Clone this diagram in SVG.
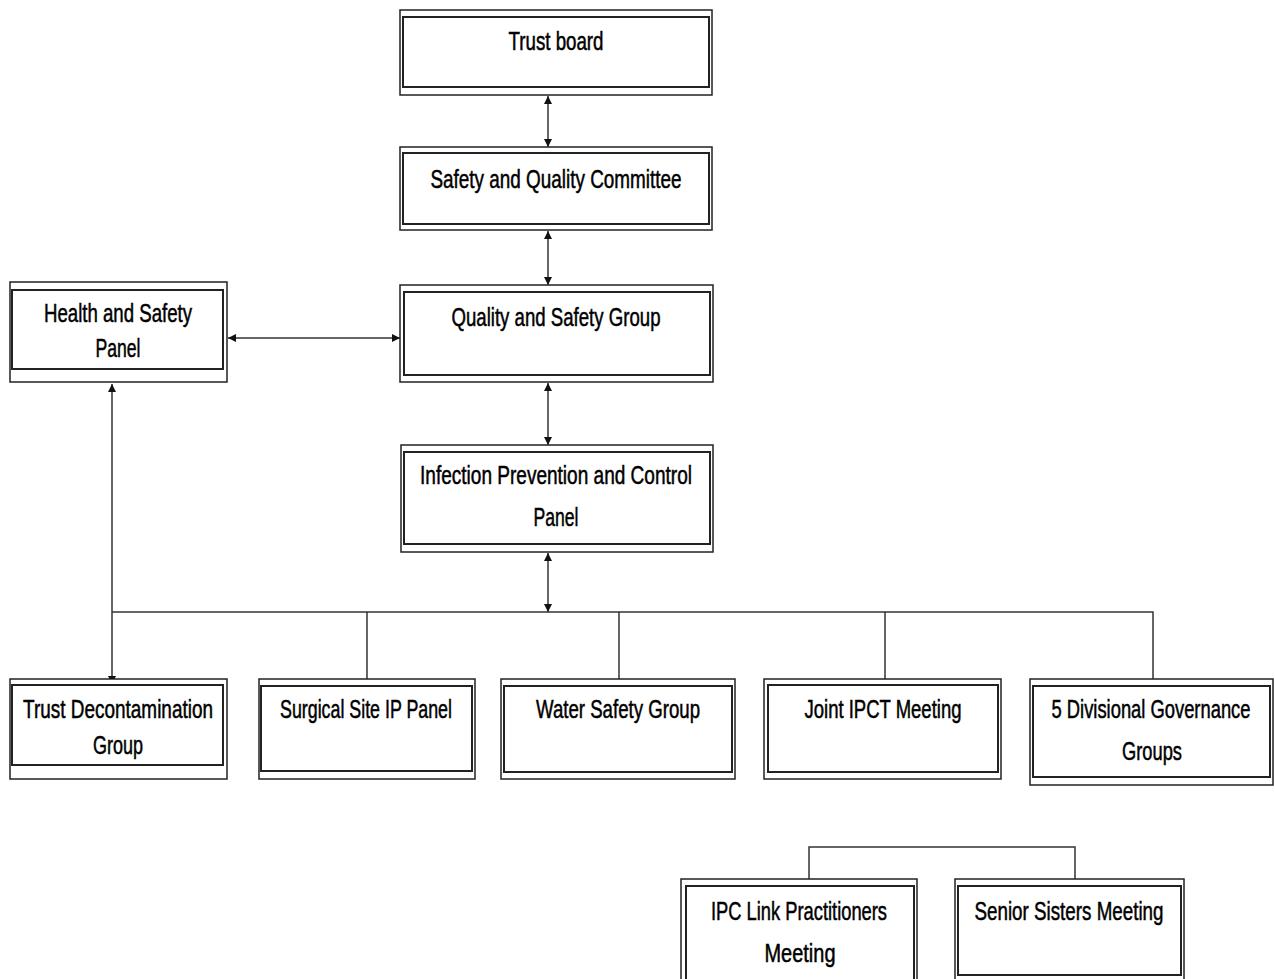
<svg xmlns="http://www.w3.org/2000/svg" width="1275" height="979" viewBox="0 0 1275 979">
<defs>
<style>
.outer{fill:#fff;stroke:#222;stroke-width:1.5}
.inner{fill:none;stroke:#222;stroke-width:2}
.t{font-family:"Liberation Sans",Arial,sans-serif;font-size:25px;fill:#000;stroke:#000;stroke-width:0.5;text-anchor:middle}
.ln{fill:none;stroke:#333;stroke-width:1.5}
</style>
<marker id="ah" viewBox="0 0 10 10" refX="10" refY="5" markerWidth="8" markerHeight="9" markerUnits="userSpaceOnUse" orient="auto-start-reverse">
<path d="M0,0 L10,5 L0,10 z" fill="#111"/>
</marker>
</defs>
<rect width="1275" height="979" fill="#fff"/>

<g id="connectors">
<line class="ln" x1="548" y1="96" x2="548" y2="147" marker-start="url(#ah)" marker-end="url(#ah)"/>
<line class="ln" x1="548" y1="231" x2="548" y2="285" marker-start="url(#ah)" marker-end="url(#ah)"/>
<line class="ln" x1="548" y1="383" x2="548" y2="445" marker-start="url(#ah)" marker-end="url(#ah)"/>
<line class="ln" x1="548" y1="553" x2="548" y2="612" marker-start="url(#ah)" marker-end="url(#ah)"/>
<line class="ln" x1="228" y1="338" x2="400" y2="338" marker-start="url(#ah)" marker-end="url(#ah)"/>
<line class="ln" x1="112" y1="384" x2="112" y2="684" marker-start="url(#ah)" marker-end="url(#ah)"/>
<polyline class="ln" points="112,612 1153,612 1153,679"/>
<line class="ln" x1="367" y1="612" x2="367" y2="679"/>
<line class="ln" x1="619" y1="612" x2="619" y2="679"/>
<line class="ln" x1="885" y1="612" x2="885" y2="679"/>
<polyline class="ln" points="809,879 809,847 1075,847 1075,879"/>
</g>

<g id="trust-board">
<rect class="outer" x="400" y="10" width="312" height="85"/>
<rect class="inner" x="403" y="17" width="306" height="70"/>
<text class="t" x="556" y="50" textLength="95" lengthAdjust="spacingAndGlyphs">Trust board</text>
</g>

<g id="safety-quality-committee">
<rect class="outer" x="400" y="147" width="312" height="83"/>
<rect class="inner" x="403" y="153" width="306" height="71"/>
<text class="t" x="556" y="188" textLength="251" lengthAdjust="spacingAndGlyphs">Safety and Quality Committee</text>
</g>

<g id="quality-safety-group">
<rect class="outer" x="400" y="285" width="313" height="97"/>
<rect class="inner" x="404" y="292" width="306" height="83"/>
<text class="t" x="556" y="326" textLength="209" lengthAdjust="spacingAndGlyphs">Quality and Safety Group</text>
</g>

<g id="health-safety-panel">
<rect class="outer" x="10" y="282" width="217" height="100"/>
<rect class="inner" x="12" y="290" width="211" height="79"/>
<text class="t" x="118" y="322" textLength="148" lengthAdjust="spacingAndGlyphs">Health and Safety</text>
<text class="t" x="118" y="357" textLength="45" lengthAdjust="spacingAndGlyphs">Panel</text>
</g>

<g id="ipc-panel">
<rect class="outer" x="401" y="445" width="312" height="107"/>
<rect class="inner" x="404" y="452" width="306" height="92"/>
<text class="t" x="556" y="484" textLength="272" lengthAdjust="spacingAndGlyphs">Infection Prevention and Control</text>
<text class="t" x="556" y="526" textLength="45" lengthAdjust="spacingAndGlyphs">Panel</text>
</g>

<g id="trust-decontamination-group">
<rect class="outer" x="10" y="679" width="217" height="100"/>
<rect class="inner" x="12" y="685" width="211" height="80"/>
<text class="t" x="118" y="718" textLength="190" lengthAdjust="spacingAndGlyphs">Trust Decontamination</text>
<text class="t" x="118" y="754" textLength="50" lengthAdjust="spacingAndGlyphs">Group</text>
</g>

<g id="surgical-site-ip-panel">
<rect class="outer" x="259" y="679" width="216" height="100"/>
<rect class="inner" x="261" y="686" width="211" height="85"/>
<text class="t" x="366" y="718" textLength="172" lengthAdjust="spacingAndGlyphs">Surgical Site IP Panel</text>
</g>

<g id="water-safety-group">
<rect class="outer" x="501" y="679" width="234" height="100"/>
<rect class="inner" x="504" y="686" width="228" height="86"/>
<text class="t" x="618" y="718" textLength="164" lengthAdjust="spacingAndGlyphs">Water Safety Group</text>
</g>

<g id="joint-ipct-meeting">
<rect class="outer" x="764" y="679" width="237" height="100"/>
<rect class="inner" x="768" y="685" width="230" height="87"/>
<text class="t" x="883" y="718" textLength="157" lengthAdjust="spacingAndGlyphs">Joint IPCT Meeting</text>
</g>

<g id="divisional-governance-groups">
<rect class="outer" x="1030" y="679" width="243" height="106"/>
<rect class="inner" x="1033" y="686" width="237" height="91"/>
<text class="t" x="1151" y="718" textLength="199" lengthAdjust="spacingAndGlyphs">5 Divisional Governance</text>
<text class="t" x="1152" y="760" textLength="60" lengthAdjust="spacingAndGlyphs">Groups</text>
</g>

<g id="ipc-link-practitioners-meeting">
<rect class="outer" x="681" y="879" width="236" height="110"/>
<rect class="inner" x="686" y="886" width="228" height="100"/>
<text class="t" x="799" y="920" textLength="176" lengthAdjust="spacingAndGlyphs">IPC Link Practitioners</text>
<text class="t" x="800" y="962" textLength="71" lengthAdjust="spacingAndGlyphs">Meeting</text>
</g>

<g id="senior-sisters-meeting">
<rect class="outer" x="955" y="879" width="229" height="105"/>
<rect class="inner" x="958" y="886" width="223" height="89"/>
<text class="t" x="1069" y="920" textLength="189" lengthAdjust="spacingAndGlyphs">Senior Sisters Meeting</text>
</g>
</svg>
